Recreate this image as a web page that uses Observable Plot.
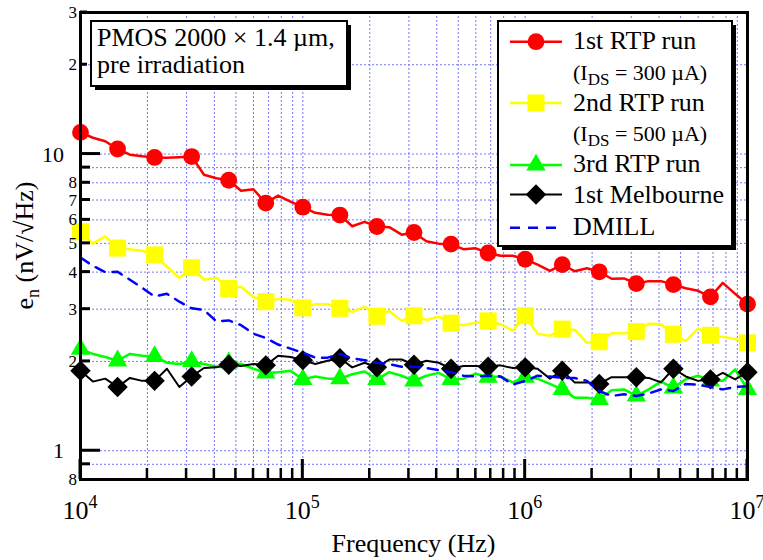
<!DOCTYPE html>
<html><head><meta charset="utf-8">
<script src="https://cdn.jsdelivr.net/npm/d3@7"></script>
<script src="https://cdn.jsdelivr.net/npm/@observablehq/plot@0.6"></script>
<style>
body{margin:0;background:#fff}
#chart{width:763px;height:560px}
</style>
</head><body><div id="chart"></div>
<script>
// ---- data ----
const freqs = [10000, 11370, 12920, 14680, 16680, 18960, 21540, 24480, 27830, 31620, 35940, 40840, 46420, 52750, 59950, 68130, 77430, 87990,
  100000, 113700, 129200, 146800, 166800, 189600, 215400, 244800, 278300, 316200, 359400, 408400, 464200, 527500, 599500, 681300, 774300, 879900,
  1000000, 1137000, 1292000, 1468000, 1668000, 1896000, 2154000, 2448000, 2783000, 3162000, 3594000, 4084000, 4642000, 5275000, 5995000, 6813000, 7743000, 8799000,
  10000000];
const rtp1 = [11.83, 11.35, 11.05, 10.40, 9.95, 9.83, 9.74, 9.72, 9.76, 9.81, 8.52, 8.29, 8.16, 7.52, 7.61, 6.83, 7.24, 6.91, 6.62, 6.34,
  6.24, 6.23, 5.71, 5.91, 5.70, 5.67, 5.35, 5.44, 5.08, 4.99, 4.97, 4.78, 4.81, 4.64, 4.54, 4.54, 4.42, 4.24, 4.04, 4.24,
  4.03, 4.12, 4.01, 3.80, 3.81, 3.66, 3.73, 3.73, 3.63, 3.53, 3.46, 3.30, 3.68, 3.38, 3.12];
const rtp2 = [5.47, 4.99, 5.28, 4.82, 4.78, 4.72, 4.57, 4.17, 3.83, 4.14, 3.77, 3.83, 3.52, 3.57, 3.30, 3.18, 3.25, 3.23, 3.03, 3.12,
  3.12, 3.02, 2.94, 3.06, 2.84, 2.96, 2.74, 2.85, 2.76, 2.83, 2.69, 2.65, 2.70, 2.74, 2.67, 2.54, 2.85, 2.48, 2.44, 2.57,
  2.56, 2.31, 2.33, 2.49, 2.49, 2.52, 2.68, 2.67, 2.47, 2.34, 2.58, 2.45, 2.42, 2.38, 2.31];
const rtp3 = [2.20, 2.12, 2.07, 2.01, 2.12, 2.09, 2.08, 1.98, 1.96, 2.00, 1.96, 1.92, 1.98, 1.96, 1.89, 1.83, 1.84, 1.86, 1.74, 1.78,
  1.75, 1.75, 1.81, 1.85, 1.74, 1.84, 1.79, 1.72, 1.79, 1.83, 1.74, 1.75, 1.82, 1.77, 1.78, 1.70, 1.77, 1.75, 1.68, 1.61,
  1.51, 1.51, 1.49, 1.60, 1.61, 1.53, 1.61, 1.71, 1.63, 1.74, 1.79, 1.72, 1.72, 1.88, 1.61];
const melbourne = [1.86, 1.71, 1.75, 1.64, 1.76, 1.72, 1.72, 1.89, 1.64, 1.78, 1.90, 1.91, 1.95, 1.93, 1.96, 1.94, 2.09, 2.07, 2.02, 1.96,
  2.01, 2.05, 1.91, 1.98, 1.91, 2.03, 2.03, 1.95, 2.01, 1.98, 1.89, 1.93, 1.93, 1.92, 1.94, 1.90, 1.91, 1.89, 1.75, 1.86,
  1.70, 1.70, 1.68, 1.77, 1.77, 1.77, 1.76, 1.70, 1.89, 1.78, 1.72, 1.74, 1.83, 1.74, 1.84];
const dmill = [4.48, 4.20, 4.00, 4.01, 3.77, 3.54, 3.31, 3.38, 3.18, 3.02, 2.98, 2.73, 2.75, 2.65, 2.48, 2.40, 2.28, 2.21, 2.14, 2.06,
  2.06, 2.12, 2.05, 2.02, 1.98, 1.96, 1.92, 1.92, 1.90, 1.87, 1.84, 1.79, 1.78, 1.79, 1.78, 1.67, 1.72, 1.79, 1.78, 1.76,
  1.76, 1.72, 1.59, 1.53, 1.55, 1.53, 1.56, 1.61, 1.59, 1.68, 1.67, 1.64, 1.61, 1.64, 1.65];
const seriesNames = ["1st RTP run", "2nd RTP run", "3rd RTP run", "1st Melbourne", "DMILL"];
const xDecades = [1e4, 1e5, 1e6, 1e7];
const xDecadeExp = ["4", "5", "6", "7"];
const xMinor = [2e4,3e4,4e4,5e4,6e4,7e4,8e4,9e4, 2e5,3e5,4e5,5e5,6e5,7e5,8e5,9e5, 2e6,3e6,4e6,5e6,6e6,7e6,8e6,9e6];
const xGrid = [2e4,3e4,4e4,5e4,6e4,7e4,8e4,9e4, 1e5, 2e5,3e5,4e5,5e5,6e5,7e5,8e5,9e5, 1e6, 2e6,3e6,4e6,5e6,6e6,7e6,8e6,9e6];
const yMajor = [1, 10];
const yMajorLabels = ["1", "10"];
const yMinor = [0.9, 2, 3, 4, 5, 6, 7, 8, 9, 20, 30];
const yMinorLabelValues = [0.8, 2, 3, 4, 5, 6, 7, 8, 20, 30];
const yMinorLabels = ["8", "2", "3", "4", "5", "6", "7", "8", "2", "3"];
const yGrid = [0.9, 1, 2, 3, 4, 5, 6, 7, 8, 9, 10, 20];

// ---- styles ----
const FONT = "'Liberation Serif', 'Times New Roman', serif";
const styles = [
  {color: "#ff0000", width: 2.5, symbol: d3.symbolCircle, r: 8.4},
  {color: "#ffff00", width: 2.5, symbol: d3.symbolSquare, r: 9.6},
  {color: "#00ff00", width: 2.5, symbol: d3.symbolTriangle, r: 7.2},
  {color: "#000000", width: 2, symbol: d3.symbolDiamond2, r: 9.2},
  {color: "#0000ff", width: 2.5, dash: "10,8"}
];
const seriesValues = [rtp1, rtp2, rtp3, melbourne, dmill];

const seriesMarks = seriesValues.flatMap((vals, s) => {
  const st = styles[s];
  const data = freqs.map((f, i) => ({f, v: vals[i], i, series: seriesNames[s]}));
  const m = [Plot.line(data, {x: "f", y: "v", stroke: st.color, strokeWidth: st.width, strokeDasharray: st.dash, strokeLinejoin: "round"})];
  if (st.symbol) m.push(Plot.dot(data.filter(d => d.i % 3 === 0), {x: "f", y: "v", symbol: st.symbol, r: st.r, fill: st.color, stroke: "none"}));
  return m;
});

const chart = Plot.plot({
  width: 763, height: 560,
  marginLeft: 80, marginRight: 16, marginTop: 12, marginBottom: 81,
  x: {type: "log", domain: [1e4, 1e7], axis: null},
  y: {type: "log", domain: [0.8, 30], axis: null},
  style: {background: "white", fontFamily: FONT},
  marks: [
    Plot.ruleX(xGrid, {stroke: "#7474ff", strokeWidth: 1, strokeDasharray: "2,2"}),
    Plot.ruleY(yGrid, {stroke: "#7474ff", strokeWidth: 1, strokeDasharray: "2,2"}),
    ...seriesMarks,
    Plot.frame({stroke: "black", strokeWidth: 3})
  ]
});
document.getElementById("chart").appendChild(chart);

const sx = chart.scale("x"), sy = chart.scale("y");
const svg = d3.select(chart);
const X0 = sx.apply(1e4), Y0 = sy.apply(0.8);
const g = svg.append("g").attr("font-family", FONT).attr("fill", "black").attr("text-anchor", "start");

// ticks (inward)
xDecades.forEach(v => g.append("line").attr("x1", sx.apply(v)).attr("x2", sx.apply(v)).attr("y1", Y0).attr("y2", Y0 - 20).attr("stroke", "black").attr("stroke-width", 3));
xMinor.forEach(v => g.append("line").attr("x1", sx.apply(v)).attr("x2", sx.apply(v)).attr("y1", Y0).attr("y2", Y0 - 11).attr("stroke", "black").attr("stroke-width", 2.5));
yMajor.forEach(v => g.append("line").attr("x1", X0).attr("x2", X0 + 20).attr("y1", sy.apply(v)).attr("y2", sy.apply(v)).attr("stroke", "black").attr("stroke-width", 3));
yMinor.forEach(v => g.append("line").attr("x1", X0).attr("x2", X0 + (v > 10 ? 7 : 10)).attr("y1", sy.apply(v)).attr("y2", sy.apply(v)).attr("stroke", "black").attr("stroke-width", 3));

// tick labels
xDecades.forEach((v, k) => {
  const t = g.append("text").attr("x", sx.apply(v)).attr("y", 519).attr("text-anchor", "middle").attr("font-size", 26);
  t.append("tspan").text("10");
  t.append("tspan").attr("font-size", 18).attr("dy", -11).text(xDecadeExp[k]);
});
yMajor.forEach((v, k) => g.append("text").attr("x", 64).attr("y", sy.apply(v) + 8).attr("text-anchor", "end").attr("font-size", 22).text(yMajorLabels[k]));
yMinorLabelValues.forEach((v, k) => g.append("text").attr("x", 77).attr("y", sy.apply(v) + 6).attr("text-anchor", "end").attr("font-size", 17).text(yMinorLabels[k]));

// axis titles
g.append("text").attr("x", (sx.apply(1e4) + sx.apply(1e7)) / 2).attr("y", 552).attr("text-anchor", "middle").attr("font-size", 26).text("Frequency (Hz)");
const yl = g.append("text").attr("transform", `translate(33,${(sy.apply(0.8) + sy.apply(30)) / 2}) rotate(-90)`).attr("text-anchor", "middle").attr("font-size", 26);
yl.append("tspan").text("e");
yl.append("tspan").attr("font-size", 18).attr("dy", 6).text("n");
yl.append("tspan").attr("dy", -6).text(" (nV/\u221AHz)");

// boxes
function box(x0, y0, x1, y1) {
  g.append("rect").attr("x", x0 + 4).attr("y", y0 + 4).attr("width", x1 - x0).attr("height", y1 - y0).attr("fill", "black");
  g.append("rect").attr("x", x0).attr("y", y0).attr("width", x1 - x0).attr("height", y1 - y0).attr("fill", "white").attr("stroke", "black").attr("stroke-width", 2);
}
box(91, 21, 347, 86);
g.append("text").attr("x", 97).attr("y", 46).attr("font-size", 26).text("PMOS 2000 \u00D7 1.4 \u00B5m,");
g.append("text").attr("x", 97).attr("y", 73).attr("font-size", 26).text("pre irradiation");

box(498, 21, 732, 246);
const legendRows = [{my: 41.7, ty: 49}, {my: 103, ty: 111}, {my: 165, ty: 172}, {my: 194.5, ty: 203}, {my: 227.7, ty: 234.5}];
legendRows.forEach((row, s) => {
  const st = styles[s];
  g.append("line").attr("x1", 510).attr("x2", 562).attr("y1", row.my).attr("y2", row.my).attr("stroke", st.color).attr("stroke-width", st.width).attr("stroke-dasharray", st.dash || null);
  if (st.symbol) g.append("path").attr("transform", `translate(536,${row.my})`).attr("d", d3.symbol(st.symbol, st.r * st.r * Math.PI)()).attr("fill", st.color);
  g.append("text").attr("x", 573).attr("y", row.ty).attr("font-size", 26).text(seriesNames[s]);
});
[["300", 80], ["500", 141]].forEach(([cur, y]) => {
  const t = g.append("text").attr("x", 573).attr("y", y).attr("font-size", 22);
  t.append("tspan").text("(I");
  t.append("tspan").attr("font-size", 17).attr("dy", 5).text("DS");
  t.append("tspan").attr("dy", -5).text(` = ${cur} \u00B5A)`);
});
</script>
</body></html>
